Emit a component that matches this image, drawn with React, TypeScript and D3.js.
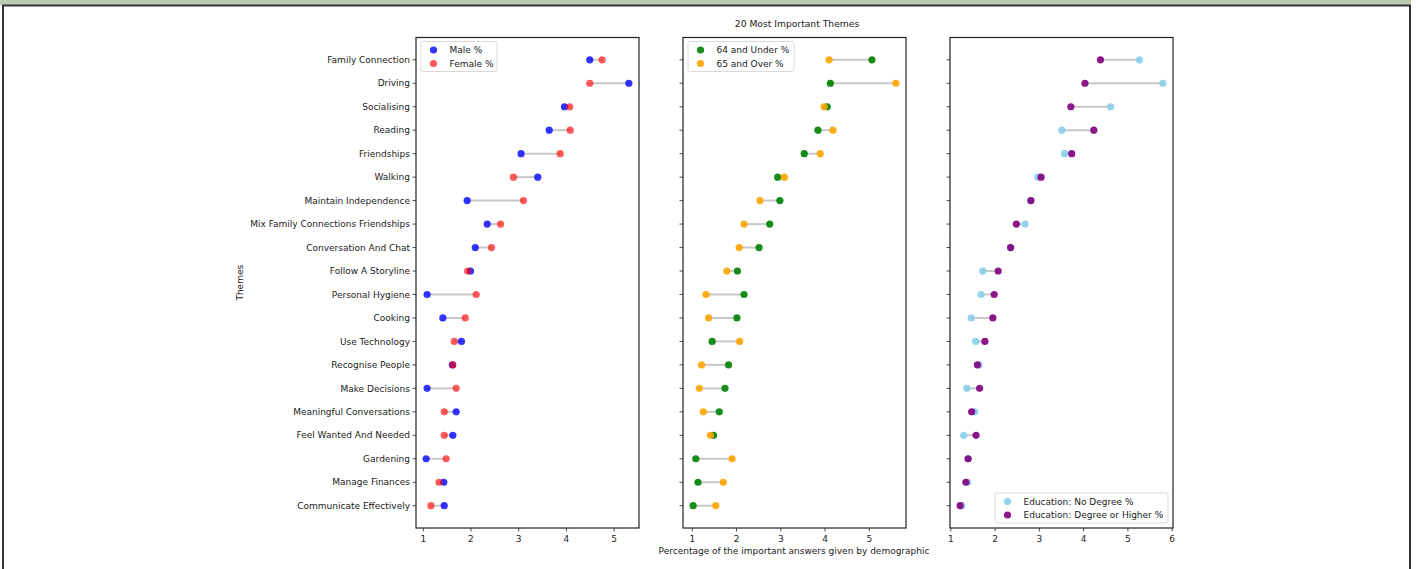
import React, { useEffect, useRef } from 'react';
import * as d3 from 'd3';

// themes, top to bottom
const themes = [
  'Family Connection', 'Driving', 'Socialising', 'Reading', 'Friendships',
  'Walking', 'Maintain Independence', 'Mix Family Connections Friendships',
  'Conversation And Chat', 'Follow A Storyline', 'Personal Hygiene', 'Cooking',
  'Use Technology', 'Recognise People', 'Make Decisions', 'Meaningful Conversations',
  'Feel Wanted And Needed', 'Gardening', 'Manage Finances', 'Communicate Effectively',
];

const male = [4.49, 5.31, 3.96, 3.64, 3.05, 3.40, 1.92, 2.34, 2.09, 1.99, 1.08, 1.41, 1.80, 1.61, 1.08, 1.69, 1.62, 1.06, 1.43, 1.44];
const female = [4.75, 4.49, 4.07, 4.08, 3.87, 2.89, 3.10, 2.62, 2.43, 1.93, 2.11, 1.88, 1.65, 1.62, 1.69, 1.44, 1.44, 1.48, 1.33, 1.16];

const under64 = [5.06, 4.12, 4.05, 3.84, 3.53, 2.93, 2.98, 2.75, 2.51, 2.02, 2.17, 2.01, 1.45, 1.82, 1.74, 1.61, 1.48, 1.08, 1.13, 1.02];
const over65 = [4.09, 5.60, 3.98, 4.18, 3.89, 3.08, 2.53, 2.17, 2.06, 1.78, 1.31, 1.37, 2.07, 1.21, 1.16, 1.25, 1.41, 1.90, 1.70, 1.53];

const noDegree = [5.26, 5.79, 4.61, 3.51, 3.57, 2.97, 2.80, 2.68, 2.35, 1.72, 1.68, 1.46, 1.56, 1.64, 1.36, 1.54, 1.29, 1.39, 1.38, 1.25];
const degree = [4.38, 4.03, 3.71, 4.23, 3.73, 3.04, 2.81, 2.48, 2.35, 2.07, 1.98, 1.95, 1.77, 1.60, 1.65, 1.47, 1.57, 1.39, 1.34, 1.21];

const panels = [
  { a: male, b: female, labels: ['Male %', 'Female %'], colors: ['blue', 'red'], alpha: [0.8, 0.65], left: 416, right: 639, legend: 'ul' },
  { a: under64, b: over65, labels: ['64 and Under %', '65 and Over %'], colors: ['green', 'orange'], alpha: [0.9, 0.9], left: 683, right: 906, legend: 'ul' },
  { a: noDegree, b: degree, labels: ['Education: No Degree %', 'Education: Degree or Higher %'], colors: ['skyblue', 'purple'], alpha: [0.9, 0.9], left: 950, right: 1173, legend: 'lr' },
];

const W = 1419;
const H = 569;
const top = 37.5;
const bottom = 528;
const font = 'DejaVu Sans, sans-serif';
const fs = '9px';

export default function App() {
  const ref = useRef<SVGSVGElement>(null);

  useEffect(() => {
    const svg = d3.select(ref.current);
    svg.selectAll('*').remove();

    // page frame
    svg.append('rect').attr('x', 0).attr('y', 0).attr('width', 1411).attr('height', 5).attr('fill', '#bccbb1');
    svg.append('line').attr('x1', 2).attr('x2', 1411).attr('y1', 5.5).attr('y2', 5.5).attr('stroke', '#333').attr('stroke-width', 2);
    svg.append('line').attr('x1', 3).attr('x2', 3).attr('y1', 5).attr('y2', H).attr('stroke', '#333').attr('stroke-width', 2);
    svg.append('line').attr('x1', 1410).attr('x2', 1410).attr('y1', 5).attr('y2', H).attr('stroke', '#333').attr('stroke-width', 2);

    const n = themes.length;
    const y = d3.scaleLinear().domain([-0.05 * (n - 1), (n - 1) * 1.05]).range([bottom, top]);
    const yPos = (i: number) => y(n - 1 - i);

    panels.forEach((p, pi) => {
      const all = p.a.concat(p.b);
      const lo = d3.min(all)!;
      const hi = d3.max(all)!;
      const pad = (hi - lo) * 0.05;
      const x = d3.scaleLinear().domain([lo - pad, hi + pad]).range([p.left, p.right]);

      const g = svg.append('g');

      // connecting lines
      g.selectAll('line.conn')
        .data(themes)
        .enter()
        .append('line')
        .attr('x1', (d, i) => x(p.a[i]))
        .attr('x2', (d, i) => x(p.b[i]))
        .attr('y1', (d, i) => yPos(i))
        .attr('y2', (d, i) => yPos(i))
        .attr('stroke', '#c8c8c8')
        .attr('stroke-width', 2);

      [p.a, p.b].forEach((vals, si) => {
        g.selectAll(null)
          .data(vals)
          .enter()
          .append('circle')
          .attr('cx', (d) => x(d))
          .attr('cy', (d, i) => yPos(i))
          .attr('r', 3.6)
          .attr('fill', p.colors[si])
          .attr('fill-opacity', p.alpha[si]);
      });

      // frame
      g.append('rect')
        .attr('x', p.left).attr('y', top)
        .attr('width', p.right - p.left).attr('height', bottom - top)
        .attr('fill', 'none').attr('stroke', '#222').attr('stroke-width', 1.2);

      // y ticks
      g.selectAll(null)
        .data(themes)
        .enter()
        .append('line')
        .attr('x1', p.left - 3.5).attr('x2', p.left)
        .attr('y1', (d, i) => yPos(i)).attr('y2', (d, i) => yPos(i))
        .attr('stroke', '#222').attr('stroke-width', 0.8);

      if (pi === 0) {
        g.selectAll(null)
          .data(themes)
          .enter()
          .append('text')
          .attr('x', p.left - 6)
          .attr('y', (d, i) => yPos(i))
          .attr('dy', '0.35em')
          .attr('text-anchor', 'end')
          .style('font-family', font)
          .style('font-size', fs)
          .attr('fill', '#222')
          .text((d) => d);
      }

      // x ticks
      const tv = d3.range(Math.ceil(x.domain()[0]), Math.floor(x.domain()[1] + 0.03) + 1);
      g.selectAll(null)
        .data(tv)
        .enter()
        .append('line')
        .attr('x1', (d) => x(d)).attr('x2', (d) => x(d))
        .attr('y1', bottom).attr('y2', bottom + 3.5)
        .attr('stroke', '#222').attr('stroke-width', 0.8);
      g.selectAll(null)
        .data(tv)
        .enter()
        .append('text')
        .attr('x', (d) => x(d))
        .attr('y', bottom + 13.5)
        .attr('text-anchor', 'middle')
        .style('font-family', font)
        .style('font-size', fs)
        .attr('fill', '#222')
        .text((d) => d);

      // legend
      const lw = pi === 2 ? 173 : pi === 1 ? 106 : 76;
      const lx = p.legend === 'ul' ? p.left + 5 : p.right - 5 - lw;
      const ly = p.legend === 'ul' ? top + 4 : bottom - 5 - 30;
      const lg = g.append('g').attr('transform', `translate(${lx},${ly})`);
      lg.append('rect').attr('width', lw).attr('height', 30).attr('rx', 2)
        .attr('fill', 'white').attr('fill-opacity', 0.8).attr('stroke', '#d0d0d0').attr('stroke-width', 0.8);
      p.labels.forEach((lab, li) => {
        lg.append('circle').attr('cx', 12.5).attr('cy', 8.5 + li * 13.5).attr('r', 3.6)
          .attr('fill', p.colors[li]).attr('fill-opacity', p.alpha[li]);
        lg.append('text').attr('x', 28.5).attr('y', 8.5 + li * 13.5).attr('dy', '0.35em')
          .style('font-family', font).style('font-size', fs).attr('fill', '#222').text(lab);
      });
    });

    svg.append('text')
      .attr('x', 797).attr('y', 27)
      .attr('text-anchor', 'middle')
      .style('font-family', font).style('font-size', '9.2px').attr('fill', '#222')
      .text('20 Most Important Themes');

    svg.append('text')
      .attr('x', 794).attr('y', 554)
      .attr('text-anchor', 'middle')
      .style('font-family', font).style('font-size', fs).attr('fill', '#222')
      .text('Percentage of the important answers given by demographic');

    svg.append('text')
      .attr('transform', `translate(243,${(top + bottom) / 2}) rotate(-90)`)
      .attr('text-anchor', 'middle')
      .style('font-family', font).style('font-size', fs).attr('fill', '#222')
      .text('Themes');
  }, []);

  return (
    <div style={{ position: 'absolute', left: 0, top: 0 }}>
      <svg ref={ref} width={W} height={H} style={{ display: 'block', background: 'white' }} />
    </div>
  );
}
